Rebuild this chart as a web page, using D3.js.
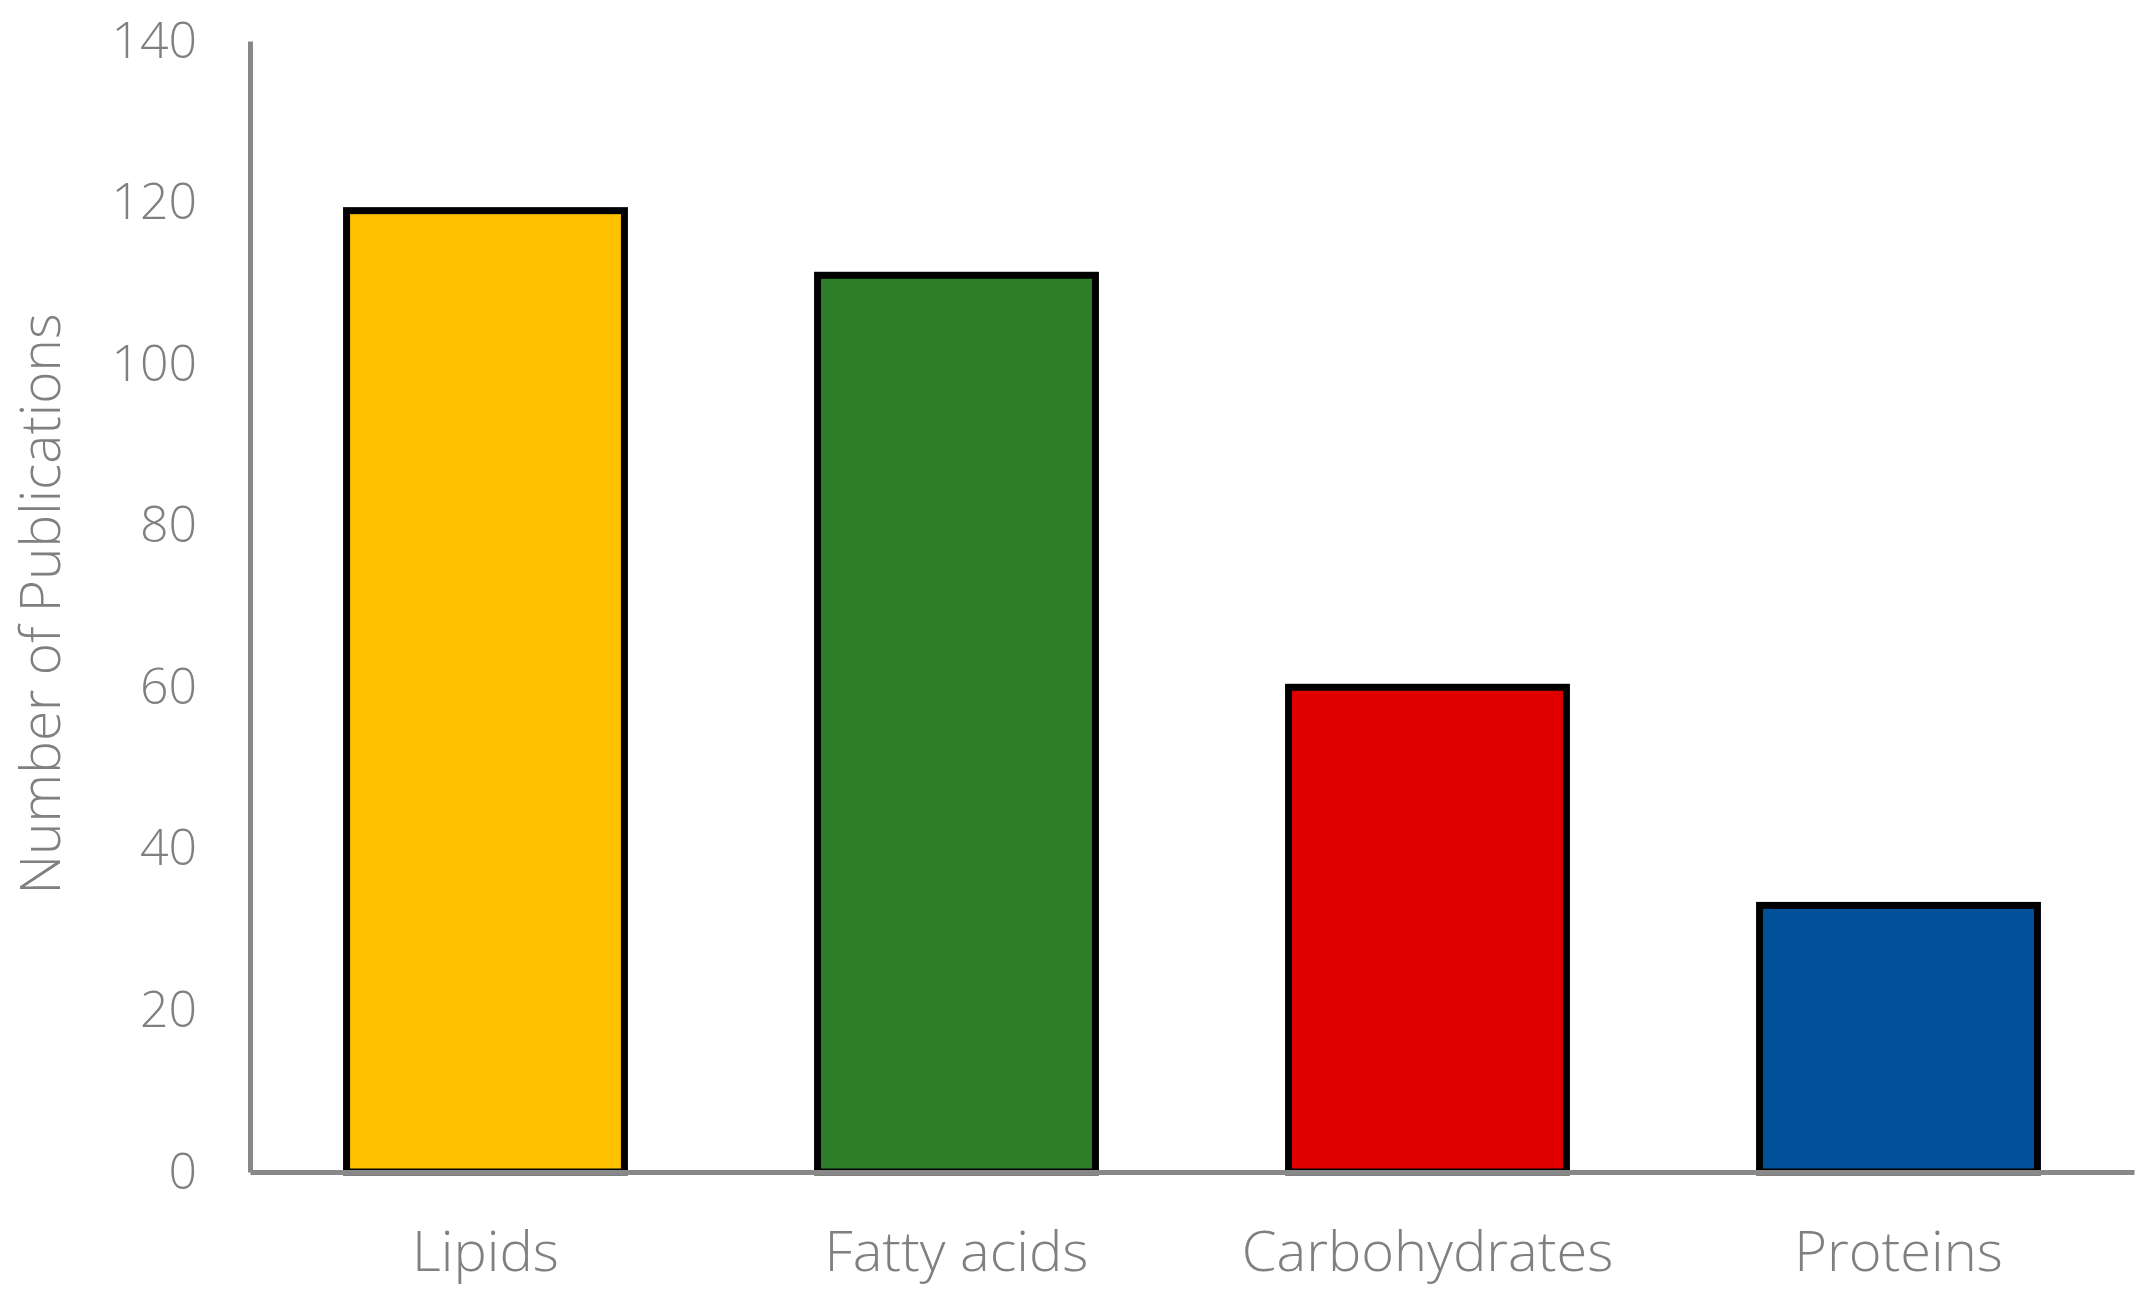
<!DOCTYPE html>
<html>
<head>
<meta charset="utf-8">
<script src="https://cdn.jsdelivr.net/npm/d3@7"></script>
<style>
    body { margin: 0; background: white; }
    text { font-family: "Open Sans", "Noto Sans", sans-serif; font-weight: 300; fill: #808080; }
</style>
</head>
<body>
<script>
const categories = ['Lipids', 'Fatty acids', 'Carbohydrates', 'Proteins']
const publications = [119, 111, 60, 33]
const barColors = ['#FFC000', '#2E7F29', '#E00000', '#00519A']
const yTicks = [0, 20, 40, 60, 80, 100, 120, 140]

const W = 2152
const H = 1299
const margin = { top: 41, right: 18, bottom: 127, left: 250 }
const width = W - margin.left - margin.right
const height = H - margin.top - margin.bottom

const svg = d3.select("body")
    .append("svg")
    .attr("width", W)
    .attr("height", H)
    .append("g")
    .attr("transform", `translate(${margin.left}, ${margin.top})`)

const xScale = d3.scaleBand()
    .domain(categories)
    .range([0, width])
    .paddingInner(0.41)
    .paddingOuter(0.205)

const yScale = d3.scaleLinear()
    .domain([0, 140])
    .range([height, 0])

// bars
svg.selectAll("rect.bar")
    .data(publications)
    .enter()
    .append("rect")
    .attr("class", "bar")
    .attr("x", (d, i) => xScale(categories[i]))
    .attr("y", d => yScale(d))
    .attr("width", xScale.bandwidth())
    .attr("height", d => yScale(0) - yScale(d))
    .attr("fill", (d, i) => barColors[i])
    .attr("stroke", "#000")
    .attr("stroke-width", 7)

// y axis
const yAxis = d3.axisLeft(yScale).tickValues(yTicks).tickSize(0).tickPadding(53)
const gy = svg.append("g").call(yAxis)
gy.select(".domain").attr("stroke", "#888").attr("stroke-width", 5)
gy.selectAll(".tick text")
    .style("font-size", "50px")
    .attr("fill", "#808080")

// x axis
const xAxis = d3.axisBottom(xScale).tickSize(0).tickPadding(59)
const gx = svg.append("g")
    .attr("transform", `translate(0, ${height})`)
    .call(xAxis)
gx.select(".domain").attr("stroke", "#888").attr("stroke-width", 5)
gx.selectAll(".tick text")
    .style("font-size", "56px")
    .attr("fill", "#808080")

svg.append("text")
    .attr("text-anchor", "middle")
    .attr("transform", `translate(${41 - margin.left}, ${604 - margin.top}) rotate(-90)`)
    .attr("dy", "0.35em")
    .style("font-size", "55px")
    .text("Number of Publications")
</script>
</body>
</html>
